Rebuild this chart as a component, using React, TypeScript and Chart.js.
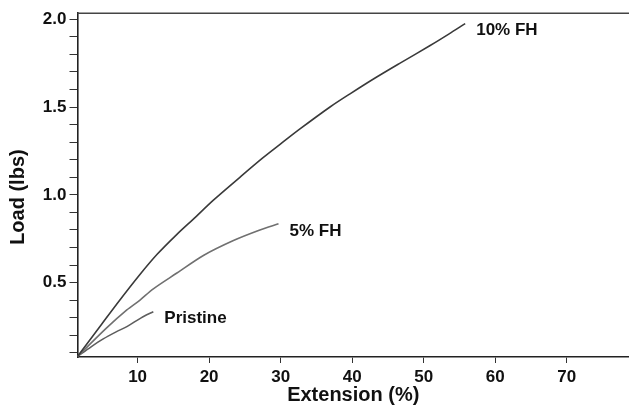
import React, { useEffect, useRef } from "react";
import { Chart, registerables } from "chart.js";

Chart.register(...registerables);

// ---- data ----
const ext10 = [1.6, 5.0, 7.5, 10.3, 12.7, 15.5, 17.8, 20.6, 24.3, 27.5, 30.0, 32.7, 36.9, 39.7, 43.2, 46.7, 50.9, 53.5, 55.8];
const load10 = [0.08, 0.265, 0.4, 0.545, 0.66, 0.775, 0.862, 0.97, 1.1, 1.21, 1.29, 1.375, 1.5, 1.575, 1.665, 1.75, 1.85, 1.915, 1.975];

const ext5 = [1.6, 5.6, 8.5, 10.3, 12.2, 15.5, 19.2, 23.4, 27.1, 29.7];
const load5 = [0.08, 0.24, 0.345, 0.4, 0.465, 0.555, 0.655, 0.74, 0.8, 0.835];

const extP = [1.6, 3.5, 5.2, 7.0, 8.5, 10.5, 12.2];
const loadP = [0.08, 0.135, 0.18, 0.22, 0.25, 0.3, 0.335];

const seriesLabels = ["10% FH", "5% FH", "Pristine"];
const seriesColors = ["#3a3a3a", "#707070", "#5e5e5e"];

const xTicks = [10, 20, 30, 40, 50, 60, 70];
const yMajorTicks = [0.5, 1.0, 1.5, 2.0];
const yMinorTicks = [0.1, 0.2, 0.3, 0.4, 0.5, 0.6, 0.7, 0.8, 0.9, 1.0, 1.1, 1.2, 1.3, 1.4, 1.5, 1.6, 1.7, 1.8, 1.9, 2.0];

const xTitle = "Extension (%)";
const yTitle = "Load (lbs)";

const xMin = 1.6;
const xMax = 78.7;
const yMin = 0.077;
const yMax = 2.034;

const FONT = "'Liberation Sans', Arial, Helvetica, sans-serif";

const pts = (xs: number[], ys: number[]) => xs.map((x, i) => ({ x, y: ys[i] }));

const decorPlugin = {
  id: "decor",
  afterDatasetsDraw(chart: any) {
    const ctx = chart.ctx;
    const { left, right, top, bottom } = chart.chartArea;
    ctx.save();
    // top frame line
    ctx.strokeStyle = "#444";
    ctx.lineWidth = 1.5;
    ctx.beginPath();
    ctx.moveTo(left, top);
    ctx.lineTo(right, top);
    ctx.stroke();

    // end-of-line labels
    ctx.fillStyle = "#111";
    ctx.font = `bold 17px ${FONT}`;
    ctx.textAlign = "left";
    ctx.textBaseline = "middle";
    chart.data.datasets.forEach((ds: any, i: number) => {
      const meta = chart.getDatasetMeta(i);
      const last = meta.data[meta.data.length - 1];
      if (!last) return;
      ctx.fillText(seriesLabels[i], last.x + 11, last.y + 7);
    });

    // axis titles
    ctx.font = `bold 20px ${FONT}`;
    ctx.textAlign = "center";
    ctx.textBaseline = "middle";
    ctx.fillText(xTitle, (left + right) / 2, bottom + 38);
    ctx.save();
    ctx.translate(18, (top + bottom) / 2 + 12);
    ctx.rotate(-Math.PI / 2);
    ctx.fillText(yTitle, 0, 0);
    ctx.restore();
    ctx.restore();
  },
};

export default function App() {
  const ref = useRef<HTMLCanvasElement | null>(null);

  useEffect(() => {
    document.body.style.margin = "0";
    const canvas = ref.current;
    if (!canvas) return;
    const chart = new Chart(canvas, {
      type: "line",
      data: {
        datasets: [
          { label: seriesLabels[0], data: pts(ext10, load10) },
          { label: seriesLabels[1], data: pts(ext5, load5) },
          { label: seriesLabels[2], data: pts(extP, loadP) },
        ].map((d, i) => ({
          ...d,
          borderColor: seriesColors[i],
          borderWidth: 1.6,
          pointRadius: 0,
          tension: 0.3,
          fill: false,
        })),
      },
      options: {
        responsive: false,
        animation: false,
        devicePixelRatio: 1,
        layout: { padding: { top: 13, left: 0, right: 0, bottom: 0 } },
        plugins: {
          legend: { display: false },
          tooltip: { enabled: false },
          title: { display: false },
        },
        scales: {
          x: {
            type: "linear",
            min: xMin,
            max: xMax,
            afterBuildTicks: (s: any) => {
              s.ticks = xTicks.map((v) => ({ value: v }));
            },
            afterFit: (s: any) => {
              s.height = 62;
            },
            ticks: {
              autoSkip: false,
              maxRotation: 0,
              color: "#111",
              padding: 4,
              font: { family: FONT, size: 17, weight: "bold" },
              callback: (v: any) => String(v),
            },
            grid: {
              display: true,
              drawOnChartArea: false,
              drawTicks: true,
              tickLength: 6,
              tickColor: "#333",
              tickWidth: 1,
            },
            border: { display: true, color: "#222", width: 1.6 },
          },
          y: {
            type: "linear",
            min: yMin,
            max: yMax,
            afterBuildTicks: (s: any) => {
              s.ticks = yMinorTicks.map((v) => ({ value: v }));
            },
            afterFit: (s: any) => {
              s.width = 77.5;
            },
            ticks: {
              autoSkip: false,
              color: "#111",
              padding: 3,
              font: { family: FONT, size: 17, weight: "bold" },
              callback: (v: any) =>
                yMajorTicks.some((m) => Math.abs(m - Number(v)) < 1e-6) ? Number(v).toFixed(1) : "",
            },
            grid: {
              display: true,
              drawOnChartArea: false,
              drawTicks: true,
              tickLength: 8,
              tickColor: "#333",
              tickWidth: 1,
            },
            border: { display: true, color: "#222", width: 1.6 },
          },
        },
      } as any,
      plugins: [decorPlugin],
    });
    return () => chart.destroy();
  }, []);

  return (
    <div style={{ position: "absolute", left: 0, top: 0, width: 629, height: 419, background: "#fff" }}>
      <canvas ref={ref} width={629} height={419} style={{ display: "block" }} />
    </div>
  );
}
